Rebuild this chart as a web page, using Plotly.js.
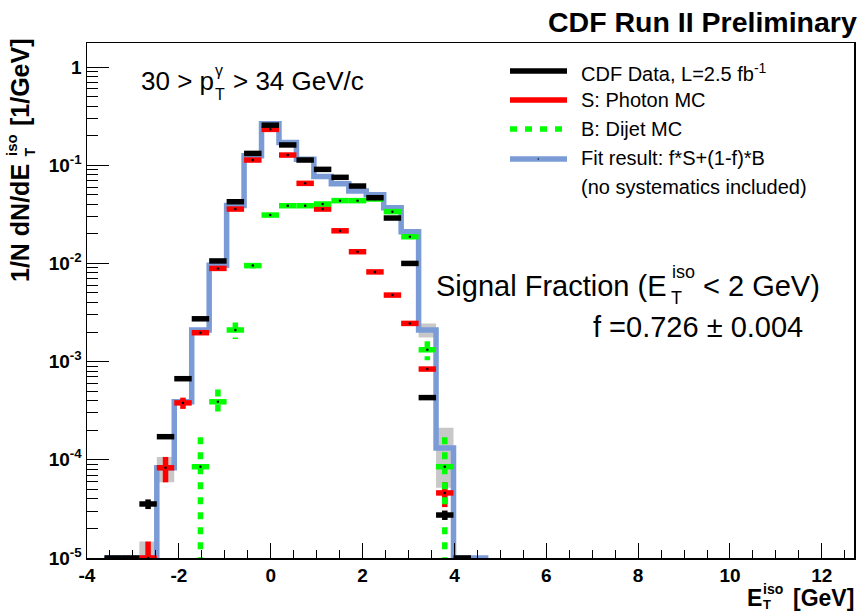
<!DOCTYPE html>
<html><head><meta charset="utf-8">
<script src="https://cdn.plot.ly/plotly-3.0.1.min.js"></script>
<style>html,body{margin:0;padding:0;background:#fff;} #chart{width:860px;height:612px;}</style>
</head><body><div id="chart"></div>
<script>
// ---------------- data ----------------
const binCenters = [-3.81,-3.43,-3.05,-2.67,-2.29,-1.91,-1.53,-1.15,-0.77,-0.39,-0.01,0.37,0.75,1.13,1.51,1.89,2.27,2.65,3.03,3.41,3.79,4.17,4.55];
const binWidth = 0.38;

const dataVals = [null,1e-5,1e-5,3.55e-5,1.72e-4,6.7e-4,2.73e-3,1.06e-2,0.0425,0.132,0.256,0.161,0.113,0.0908,0.0753,0.0614,0.0467,0.029,0.0100,4.3e-4,2.74e-5,1e-5,null];
const dataErrs = [0,0,0,4e-6,8e-6,1.5e-5,3e-5,6e-5,1.2e-4,2e-4,3e-4,2.4e-4,2e-4,1.8e-4,1.6e-4,1.5e-4,1.3e-4,1e-4,6e-5,1.3e-5,3e-6,0,0];

const sigVals = [null,null,null,1e-5,8.3e-5,3.8e-4,1.97e-3,8.9e-3,0.0358,0.113,0.232,0.127,0.0654,0.0358,0.0215,0.01316,8.2e-3,4.76e-3,2.45e-3,8.4e-4,4.6e-5,null,null];
const sigErrs = [0,0,0,4.7e-6,2.4e-5,5e-5,1e-4,2e-4,4e-4,8e-4,1.2e-3,8e-4,5e-4,3.5e-4,2.5e-4,2e-4,1.5e-4,1.1e-4,6e-5,3e-5,1.3e-5,0,0];

const bkgVals = [null,null,null,null,null,null,8.5e-5,3.9e-4,2.1e-3,9.5e-3,0.0311,0.0387,0.0387,0.0403,0.0436,0.0436,0.0453,0.0337,0.0187,1.32e-3,8.5e-5,null,null];
const bkgErrs = [0,0,0,0,0,0,8.5e-5,1.3e-4,4e-4,6e-4,1.2e-3,1.3e-3,1.3e-3,1.3e-3,1.4e-3,1.4e-3,1.4e-3,1.2e-3,9e-4,2.9e-4,8.5e-5,0,0];

const fitVals = [null,1e-5,1e-5,1e-5,8.3e-5,3.9e-4,2.1e-3,9.6e-3,0.039,0.125,0.265,0.17,0.115,0.077,0.0647,0.0546,0.05,0.037,0.021,2.1e-3,1.32e-4,1e-5,1e-5];
const fitErrs = [0,0,0,4.7e-6,2.4e-5,0,0,0,0,0,0,0,0,0,0,0,0,0,0,3.4e-4,8e-5,0,0];

const xTickVals = [-4,-2,0,2,4,6,8,10,12];
const xTickText = ['-4','-2','0','2','4','6','8','10','12'];
const yTickVals = [1e-5,1e-4,1e-3,1e-2,1e-1,1];
const yTickText = ['10<sup>-5</sup>','10<sup>-4</sup>','10<sup>-3</sup>','10<sup>-2</sup>','10<sup>-1</sup>','1'];

const legendLabels = ['CDF Data, L=2.5 fb<sup>-1</sup>','S: Photon MC','B: Dijet MC','Fit result: f*S+(1-f)*B','(no systematics included)'];

// ---------------- helpers ----------------
const FONT = 'Liberation Sans, Arial, Helvetica, sans-serif';
const FLOOR = 1e-9;
const half = binWidth/2;

function hSegs(vals){
  const x=[],y=[];
  binCenters.forEach((c,i)=>{const v=vals[i]; if(v==null) return; x.push(c-half,c+half,null); y.push(v,v,null);});
  return {x,y};
}
function vSegs(vals,errs){
  const x=[],y=[];
  binCenters.forEach((c,i)=>{const v=vals[i],e=errs[i]; if(v==null||!e) return; x.push(c,c,null); y.push(v+e,Math.max(v-e,FLOOR),null);});
  return {x,y};
}
function steps(vals){
  const x=[],y=[];
  binCenters.forEach((c,i)=>{const v=vals[i]; if(v==null) return; x.push(c-half,c+half); y.push(v,v);});
  return {x,y};
}
function bands(vals,errs){
  const x=[],y=[];
  binCenters.forEach((c,i)=>{const v=vals[i],e=errs[i]; if(v==null||!e) return;
    const lo=Math.max(v-e,FLOOR), hi=v+e;
    x.push(c-half,c+half,c+half,c-half,c-half,null); y.push(lo,lo,hi,hi,lo,null);});
  return {x,y};
}
function pts(vals){
  const x=[],y=[];
  binCenters.forEach((c,i)=>{if(vals[i]!=null){x.push(c);y.push(vals[i]);}});
  return {x,y};
}

const BLACK='#000000', RED='#ff0000', GREEN='#00ff00', BLUE='#7b9bd6', GRAY='#c8c8c8';
const LW=5.5;
const GDASH='7px,8px';

const traces = [];
const bd=bands(fitVals,fitErrs);
traces.push({x:bd.x,y:bd.y,mode:'lines',fill:'toself',fillcolor:GRAY,line:{width:0,color:GRAY},hoverinfo:'skip',showlegend:false});
const st=steps(fitVals);
traces.push({x:st.x,y:st.y,mode:'lines',line:{color:BLUE,width:5.5},showlegend:false});
function addSeries(vals,errs,color,dashV){
  const h=hSegs(vals), v=vSegs(vals,errs);
  traces.push({x:h.x,y:h.y,mode:'lines',line:{color,width:LW},showlegend:false,connectgaps:false});
  traces.push({x:v.x,y:v.y,mode:'lines',line:{color,width:LW,dash:dashV||'solid'},showlegend:false,connectgaps:false});
}
addSeries(sigVals,sigErrs,RED);
addSeries(bkgVals,bkgErrs,GREEN,GDASH);
addSeries(dataVals,dataErrs,BLACK);
[sigVals,bkgVals].forEach(vals=>{const p=pts(vals);
  traces.push({x:p.x,y:p.y,mode:'markers',marker:{color:'#000',size:2.5},showlegend:false});});

// ---------------- geometry for text ----------------
const L=87,R=854,T=43,B=558;
const PX=x=>(x-L)/(R-L), PY=y=>(B-y)/(B-T);
function txt(text,x,y,size,o){
  return Object.assign({xref:'paper',yref:'paper',x:PX(x),y:PY(y),text,showarrow:false,xanchor:'left',yanchor:'middle',
    font:{family:FONT,size,color:'#000'},borderpad:0},o||{});
}
function fb(size){return {family:FONT,size,color:'#000',weight:'bold'};}
const rot={textangle:-90,xanchor:'center',yanchor:'bottom'};

const ann=[
  txt('CDF Run II Preliminary',858,22,28.5,{xanchor:'right',font:fb(28.5)}),
  // pT range
  txt('30 &gt; p',140,81,26),
  txt('γ',214,70,16),
  txt('T',214,94,16),
  txt('&gt; 34 GeV/c',232,81,26),
  // legend text
  txt(legendLabels[0],580,72,20),
  txt(legendLabels[1],580,100,20),
  txt(legendLabels[2],580,129,20),
  txt(legendLabels[3],580,158,20),
  txt(legendLabels[4],580,187,20),
  // signal fraction
  txt('Signal Fraction (E',435,286,29),
  txt('iso',671,272,18),
  txt('T',670,298,18),
  txt('&lt; 2 GeV)',702,286,29),
  txt('f =0.726 ± 0.004',592,327,29),
  // x title
  txt('E',746,598,23,{font:fb(23)}),
  txt('iso',762,589,14,{font:fb(14)}),
  txt('T',762,604,13,{font:fb(13)}),
  txt('[GeV]',792,598,23,{font:fb(23)}),
  // y title (rotated)
  txt('1/N dN/dE',20,283,25,Object.assign({font:fb(25)},rot)),
  txt('iso',11,157,15,Object.assign({font:fb(15)},rot)),
  txt('T',29,157,14,Object.assign({font:fb(14)},rot)),
  txt('[1/GeV]',20,127,25,Object.assign({font:fb(25)},rot)),
];

function lineShape(x0,x1,y,color,dash){
  return {type:'line',xref:'paper',yref:'paper',x0:PX(x0),x1:PX(x1),y0:PY(y),y1:PY(y),line:{color,width:LW,dash:dash||'solid'}};
}
const shapes=[
  lineShape(510,567,71,BLACK),
  lineShape(510,567,100,RED),
  lineShape(510,567,129,GREEN,GDASH),
  lineShape(510,567,159,BLUE),
  {type:'circle',xref:'paper',yref:'paper',x0:PX(537.5),x1:PX(539),y0:PY(158.3),y1:PY(159.8),fillcolor:'#000',line:{width:0}}
];

const axisCommon={showline:true,mirror:true,linecolor:'#000',linewidth:1.5,showgrid:false,zeroline:false,
  ticks:'inside',tickcolor:'#000',tickwidth:1,tickfont:{family:FONT,size:19,color:'#000',weight:'bold'}};

const layout={
  width:860,height:612,margin:{l:L,r:860-R,t:T,b:612-B},
  paper_bgcolor:'#fff',plot_bgcolor:'#fff',showlegend:false,
  xaxis:Object.assign({},axisCommon,{range:[-4,12.7],tickmode:'array',tickvals:xTickVals,ticktext:xTickText,ticklen:15,
    minor:{ticks:'inside',ticklen:8,dtick:0.5,tick0:0,tickcolor:'#000',tickwidth:1}}),
  yaxis:Object.assign({},axisCommon,{type:'log',range:[-5,0.245],tickmode:'array',tickvals:yTickVals,ticktext:yTickText,ticklen:22,
    minor:{ticks:'inside',ticklen:11,dtick:'D1',tickcolor:'#000',tickwidth:1}}),
  annotations:ann,shapes:shapes
};
Plotly.newPlot('chart',traces,layout,{displayModeBar:false,staticPlot:true});
</script></body></html>
